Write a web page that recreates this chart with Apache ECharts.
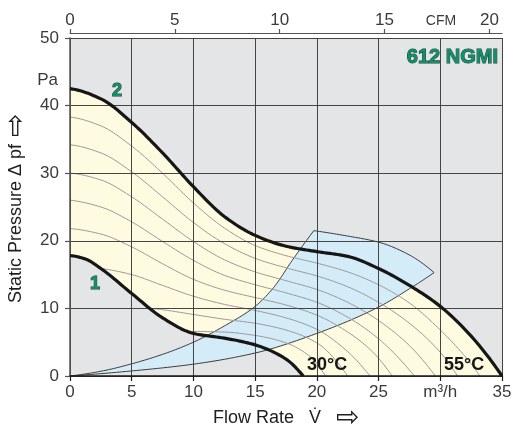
<!DOCTYPE html>
<html><head><meta charset="utf-8">
<script src="https://cdn.jsdelivr.net/npm/echarts@6/dist/echarts.min.js"></script>
<style>html,body{margin:0;padding:0;background:#fff}#c{width:514px;height:428px}</style>
</head><body><div id="c"></div>
<script>
// ---- axes / ticks ----
const flowTickLabels = ['0','5','10','15','20','25','m³/h','35'];
const cfmTicks = [0,5,10,15,20];
const cfmPerM3h = 0.5886;

// ---- fan curves (x: m3/h, p: Pa) ----
const curve55X = [0,2.5,5,7.5,10,12.5,15,17.5,20,22.5,25,27.5,30,32.5,35];
const curve55P = [42.5,41.0,37.5,33.0,28.0,23.6,20.8,19.2,18.4,17.7,15.9,13.4,10.3,5.9,0];
const curve30X = [0,1.25,2.5,5,7.5,10,12.5,15,17.5,18.9];
const curve30P = [17.8,17.3,15.9,12.2,8.6,6.3,5.6,4.6,2.5,0];

// ---- intermediate thin curves ----
const thin1X = [0,2.5,5,7.5,10,12.5,15,17.5,20,22.5,25,27.5,30,32.5,33.2];
const thin1P = [38.3,37.0,34.0,30.0,25.6,21.9,19.3,17.8,16.7,15.4,13.5,10.8,6.8,1.8,0];
const thin2X = [0,2.5,5,7.5,10,12.5,15,17.5,20,22.5,25,27.5,30,31.4];
const thin2P = [34.2,33.0,30.2,26.5,22.7,19.6,17.4,16.0,14.8,13.2,10.9,7.8,3.5,0];
const thin3X = [0,2.5,5,7.5,10,12.5,15,17.5,20,22.5,25,27.5,29.6];
const thin3P = [30.0,29.0,26.5,23.2,19.9,17.2,15.4,14.1,12.8,10.9,8.2,4.5,0];
const thin4X = [0,2.5,5,7.5,10,12.5,15,17.5,20,22.5,25,27.9];
const thin4P = [26.0,25.0,22.8,19.9,17.1,14.9,13.5,12.3,10.9,8.7,5.5,0];
const thin5X = [0,2.5,5,7.5,10,12.5,15,17.5,20,22.5,24.5,26.1];
const thin5P = [21.8,21.0,19.1,16.6,14.3,12.7,11.6,10.5,9.0,6.5,3.6,0];
const thin6X = [2.5,5,7.5,10,12.5,15,17.5,20,22.5,24.3];
const thin6P = [15.9,15.0,13.4,11.8,10.6,9.7,8.6,6.9,3.6,0];
const thin7X = [6.5,7.5,10,12.5,15,17.5,20,22.5];
const thin7P = [10.0,9.8,9.1,8.4,7.8,6.8,4.9,0];
const thin8X = [9.6,12.5,15,17.5,19.5,20.7];
const thin8P = [6.6,6.5,6.0,4.9,2.8,0];

// ---- system (blue) region ----
const sysLowX = [0,5,10,15,20,25,27.5,29.5];
const sysLowP = [0,0.75,1.75,3.4,6.3,10.2,12.9,15.3];
const sysHighX = [0,2.5,5,7.5,10,12.5,15,16.5,18,19.75];
const sysHighP = [0,0.7,1.8,3.2,5.0,7.4,10.3,13.1,17.1,21.5];
const arcX = [19.75,22.5,25,27.5,29.5];
const arcP = [21.5,20.7,19.8,17.9,15.3];

const thinCurves = [[thin1X,thin1P],[thin2X,thin2P],[thin3X,thin3P],[thin4X,thin4P],
                    [thin5X,thin5P],[thin6X,thin6P],[thin7X,thin7P],[thin8X,thin8P]];

const FONT = '"Liberation Sans", Arial, sans-serif';

// monotone cubic (x-monotone) smoothing, used only for drawing between the read points
function smoothPts(pts, seg) {
  seg = seg || 12;
  const n = pts.length;
  if (n < 3) return pts.slice();
  const h = [], d = [], m = new Array(n);
  for (let i = 0; i < n - 1; i++) { h[i] = pts[i + 1][0] - pts[i][0]; d[i] = (pts[i + 1][1] - pts[i][1]) / h[i]; }
  for (let i = 1; i < n - 1; i++) {
    if (d[i - 1] * d[i] <= 0) m[i] = 0;
    else { const w1 = 2 * h[i] + h[i - 1], w2 = h[i] + 2 * h[i - 1]; m[i] = (w1 + w2) / (w1 / d[i - 1] + w2 / d[i]); }
  }
  const end = (h0, h1, d0, d1) => { let v = ((2 * h0 + h1) * d0 - h0 * d1) / (h0 + h1); if (v * d0 <= 0) v = 0; else if (d0 * d1 <= 0 && Math.abs(v) > Math.abs(3 * d0)) v = 3 * d0; return v; };
  m[0] = end(h[0], h[1], d[0], d[1]);
  m[n - 1] = end(h[n - 2], h[n - 3], d[n - 2], d[n - 3]);
  const out = [];
  for (let i = 0; i < n - 1; i++) {
    for (let s = 0; s < seg; s++) {
      const t = s / seg, t2 = t * t, t3 = t2 * t;
      const h00 = 2 * t3 - 3 * t2 + 1, h10 = t3 - 2 * t2 + t, h01 = -2 * t3 + 3 * t2, h11 = t3 - t2;
      out.push([pts[i][0] + h[i] * t, h00 * pts[i][1] + h10 * h[i] * m[i] + h01 * pts[i + 1][1] + h11 * h[i] * m[i + 1]]);
    }
  }
  out.push(pts[n - 1]);
  return out;
}
function layer(name, z, build) {
  return { type: 'custom', name, z, silent: true, clip: false, data: [[0, 0]],
    renderItem: (params, api) => {
      const P = (xs, ps) => xs.map((x, i) => api.coord([x, ps[i]]));
      return build(P);
    } };
}

const chart = echarts.init(document.getElementById('c'), null, { renderer: 'canvas' });
const axisLabelStyle = { fontSize: 17, color: '#3a3a3a', fontFamily: FONT };
chart.setOption({
  animation: false,
  backgroundColor: '#ffffff',
  textStyle: { fontFamily: FONT },
  grid: { left: 70, right: 12, top: 38, bottom: 52, show: true, backgroundColor: '#e4e5e7', borderWidth: 0, outerBoundsMode: 'none' },
  xAxis: [
    { type: 'value', min: 0, max: 35, interval: 5, position: 'bottom', z: 4,
      axisLine: { show: true, onZero: false, lineStyle: { color: '#1a1a1a', width: 1.5 } },
      axisTick: { show: true, length: 5, lineStyle: { color: '#1a1a1a', width: 1.2 } },
      axisLabel: Object.assign({ margin: 8, formatter: v => flowTickLabels[Math.round(v / 5)] }, axisLabelStyle),
      splitLine: { show: true, lineStyle: { color: '#444', width: 1 } } },
    { type: 'value', min: 0, max: 35 * cfmPerM3h, position: 'top', offset: 5, z: 4,
      axisLine: { show: true, onZero: false, lineStyle: { color: '#555', width: 1.2 } },
      axisTick: { show: true, length: 4, customValues: cfmTicks, lineStyle: { color: '#555', width: 1.2 } },
      axisLabel: Object.assign({ margin: 4, customValues: cfmTicks }, axisLabelStyle),
      splitLine: { show: false } }
  ],
  yAxis: { type: 'value', min: 0, max: 50, interval: 10, z: 4,
    axisLine: { show: true, onZero: false, lineStyle: { color: '#555', width: 1.5 } },
    axisTick: { show: true, length: 5, lineStyle: { color: '#555', width: 1.2 } },
    axisLabel: Object.assign({ margin: 11 }, axisLabelStyle),
    splitLine: { show: true, lineStyle: { color: '#444', width: 1 } } },
  series: [
    layer('yellow', 1, P => {
      const top = smoothPts(P(curve55X, curve55P));
      const bot = smoothPts(P(curve30X, curve30P)).reverse();
      return { type: 'polygon', shape: { points: top.concat(bot) }, style: { fill: '#fffbe0' } };
    }),
    layer('blue', 2, P => {
      const low = smoothPts(P(sysLowX, sysLowP));
      const arc = smoothPts(P(arcX, arcP)).reverse();
      const high = smoothPts(P(sysHighX, sysHighP)).reverse();
      return { type: 'polygon', shape: { points: low.concat(arc, high) },
        style: { fill: '#d4ecf8', stroke: '#2a2a2a', lineWidth: 0.9 } };
    }),
    layer('thin', 3, P => ({ type: 'group', children: thinCurves.map(c => ({
      type: 'polyline', shape: { points: smoothPts(P(c[0], c[1])) },
      style: { stroke: '#9a9a9a', lineWidth: 1, fill: null } })) })),
    layer('thick', 5, P => ({ type: 'group', children: [[curve55X, curve55P], [curve30X, curve30P]].map(c => ({
      type: 'polyline', shape: { points: smoothPts(P(c[0], c[1])) },
      style: { stroke: '#161616', lineWidth: 3.2, fill: null, lineJoin: 'round' } })) }))
  ],
  graphic: [
    { type: 'text', x: 498, y: 57.5, z: 10, style: { text: '612 NGMI', font: 'bold 20px ' + FONT, fill: '#11906b', stroke: '#1c3a30', lineWidth: 1, align: 'right', verticalAlign: 'middle' } },
    { type: 'text', x: 117, y: 91.5, z: 10, style: { text: '2', font: 'bold 18px ' + FONT, fill: '#11906b', stroke: '#1c3a30', lineWidth: 1, align: 'center', verticalAlign: 'middle' } },
    { type: 'text', x: 95, y: 284.5, z: 10, style: { text: '1', font: 'bold 18px ' + FONT, fill: '#11906b', stroke: '#1c3a30', lineWidth: 1, align: 'center', verticalAlign: 'middle' } },
    { type: 'text', x: 307, y: 365, z: 10, style: { text: '30°C', font: 'bold 18px ' + FONT, fill: '#161616', align: 'left', verticalAlign: 'middle' } },
    { type: 'text', x: 444, y: 365, z: 10, style: { text: '55°C', font: 'bold 18px ' + FONT, fill: '#161616', align: 'left', verticalAlign: 'middle' } },
    { type: 'text', x: 58, y: 80, z: 10, style: { text: 'Pa', font: '17px ' + FONT, fill: '#3a3a3a', align: 'right', verticalAlign: 'middle' } },
    { type: 'text', x: 441, y: 21, z: 10, style: { text: 'CFM', font: '14px ' + FONT, fill: '#3a3a3a', align: 'center', verticalAlign: 'middle' } },
    { type: 'text', x: 213, y: 418, z: 10, style: { text: 'Flow Rate', font: '18px ' + FONT, fill: '#1e1e1e', align: 'left', verticalAlign: 'middle' } },
    { type: 'text', x: 309, y: 418, z: 10, style: { text: 'V\u0307', font: '18px ' + FONT, fill: '#1e1e1e', align: 'left', verticalAlign: 'middle' } },
    { type: 'text', x: 336, y: 419, z: 10, style: { text: '⇨', font: '28px "DejaVu Sans"', fill: '#1e1e1e', align: 'left', verticalAlign: 'middle' } },
    { type: 'text', x: 16, y: 303, rotation: Math.PI / 2, z: 10, style: { text: 'Static Pressure Δ pf', font: '18px ' + FONT, fill: '#1e1e1e', align: 'left', verticalAlign: 'middle' } },
    { type: 'text', x: 17, y: 137, rotation: Math.PI / 2, z: 10, style: { text: '⇨', font: '28px "DejaVu Sans"', fill: '#1e1e1e', align: 'left', verticalAlign: 'middle' } }
  ]
});
</script></body></html>
